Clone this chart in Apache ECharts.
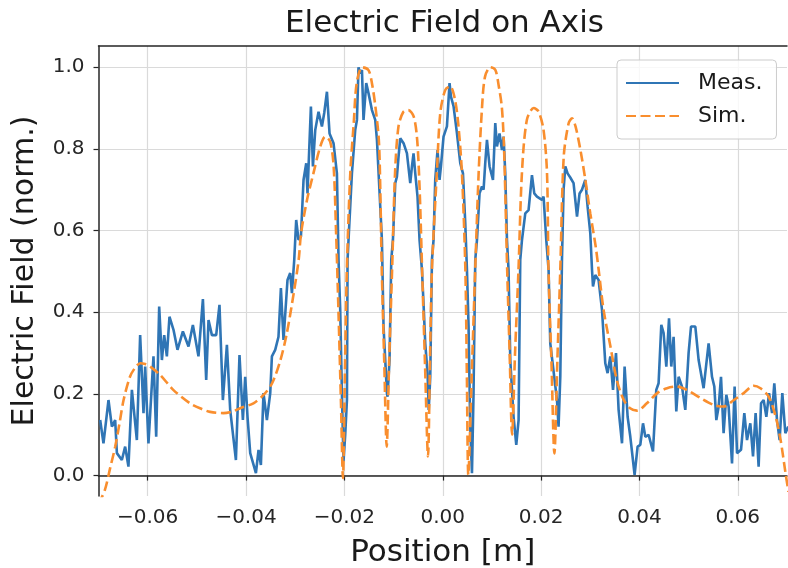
<!DOCTYPE html>
<html>
<head>
<meta charset="utf-8">
<script src="https://cdn.jsdelivr.net/npm/echarts@6/dist/echarts.min.js"></script>
<style>html,body{margin:0;padding:0;background:#fff}#c{width:788px;height:568px}</style>
</head>
<body>
<div id="c"></div>
<script>
var xTicks = [-0.06, -0.04, -0.02, 0.0, 0.02, 0.04, 0.06];
var yTicks = [0.0, 0.2, 0.4, 0.6, 0.8, 1.0];

var measX = [-0.06966,-0.06899,-0.06797,-0.06728,-0.06661,-0.06626,-0.06525,-0.06458,-0.06391,-0.06321,-0.06220,-0.06153,-0.06085,-0.06051,-0.05984,-0.05882,-0.05827,-0.05766,-0.05711,-0.05664,-0.05610,-0.05557,-0.05475,-0.05394,-0.05284,-0.05170,-0.05081,-0.04967,-0.04877,-0.04810,-0.04763,-0.04694,-0.04607,-0.04540,-0.04471,-0.04389,-0.04322,-0.04206,-0.04133,-0.04064,-0.04017,-0.03970,-0.03915,-0.03799,-0.03746,-0.03698,-0.03645,-0.03576,-0.03508,-0.03474,-0.03407,-0.03340,-0.03291,-0.03238,-0.03157,-0.03102,-0.03067,-0.03020,-0.02980,-0.02933,-0.02884,-0.02831,-0.02776,-0.02750,-0.02681,-0.02640,-0.02593,-0.02526,-0.02457,-0.02410,-0.02355,-0.02302,-0.02221,-0.02152,-0.02119,-0.02085,-0.02050,-0.02018,-0.01983,-0.01948,-0.01936,-0.01916,-0.01847,-0.01780,-0.01745,-0.01713,-0.01678,-0.01643,-0.01611,-0.01556,-0.01509,-0.01440,-0.01373,-0.01338,-0.01271,-0.01237,-0.01204,-0.01135,-0.01123,-0.01082,-0.01047,-0.01013,-0.00966,-0.00932,-0.00899,-0.00864,-0.00797,-0.00728,-0.00661,-0.00626,-0.00594,-0.00559,-0.00513,-0.00472,-0.00423,-0.00391,-0.00356,-0.00309,-0.00285,-0.00254,-0.00220,-0.00187,-0.00153,-0.00106,-0.00065,-0.00037,0.00016,0.00085,0.00138,0.00167,0.00220,0.00289,0.00356,0.00411,0.00458,0.00492,0.00525,0.00559,0.00594,0.00626,0.00661,0.00696,0.00748,0.00797,0.00830,0.00864,0.00899,0.00952,0.01021,0.01068,0.01102,0.01155,0.01204,0.01237,0.01271,0.01306,0.01338,0.01373,0.01440,0.01495,0.01542,0.01576,0.01611,0.01678,0.01745,0.01814,0.01861,0.01916,0.02018,0.02050,0.02105,0.02152,0.02186,0.02323,0.02355,0.02390,0.02424,0.02457,0.02492,0.02538,0.02593,0.02660,0.02730,0.02782,0.02831,0.02898,0.02945,0.03000,0.03035,0.03055,0.03102,0.03169,0.03238,0.03271,0.03305,0.03352,0.03407,0.03462,0.03523,0.03576,0.03645,0.03698,0.03759,0.03814,0.03901,0.03962,0.04017,0.04072,0.04119,0.04186,0.04275,0.04342,0.04389,0.04444,0.04491,0.04546,0.04601,0.04647,0.04694,0.04749,0.04796,0.04865,0.04932,0.04999,0.05048,0.05136,0.05203,0.05304,0.05406,0.05475,0.05522,0.05563,0.05610,0.05658,0.05711,0.05766,0.05813,0.05882,0.05935,0.05984,0.06065,0.06132,0.06187,0.06254,0.06309,0.06362,0.06423,0.06472,0.06525,0.06580,0.06635,0.06696,0.06742,0.06797,0.06850,0.06905,0.06966,0.07027];
var measY = [0.136,0.079,0.185,0.120,0.136,0.055,0.038,0.071,0.022,0.210,0.087,0.344,0.153,0.267,0.079,0.292,0.095,0.414,0.283,0.344,0.292,0.389,0.357,0.308,0.353,0.316,0.369,0.292,0.432,0.234,0.381,0.344,0.344,0.418,0.185,0.320,0.161,0.038,0.295,0.136,0.242,0.144,0.055,0.006,0.063,0.026,0.202,0.136,0.202,0.292,0.308,0.340,0.459,0.332,0.479,0.496,0.447,0.528,0.626,0.577,0.585,0.724,0.765,0.691,0.904,0.757,0.846,0.891,0.855,0.888,0.940,0.838,0.814,0.740,0.528,0.406,0.200,0.035,0.100,0.185,0.528,0.577,0.740,0.846,0.871,1.000,0.985,0.993,0.871,0.961,0.936,0.895,0.871,0.822,0.659,0.577,0.365,0.202,0.193,0.283,0.528,0.577,0.716,0.732,0.781,0.826,0.814,0.789,0.716,0.757,0.789,0.740,0.683,0.577,0.504,0.422,0.324,0.251,0.161,0.242,0.528,0.577,0.724,0.797,0.724,0.757,0.830,0.855,0.961,0.928,0.904,0.838,0.765,0.740,0.618,0.504,0.365,0.120,0.006,0.202,0.528,0.577,0.691,0.708,0.700,0.765,0.822,0.757,0.724,0.863,0.806,0.838,0.797,0.830,0.740,0.577,0.504,0.283,0.144,0.075,0.136,0.528,0.577,0.642,0.650,0.736,0.691,0.683,0.675,0.683,0.577,0.504,0.324,0.185,0.120,0.242,0.528,0.700,0.757,0.740,0.730,0.716,0.634,0.691,0.700,0.724,0.659,0.594,0.504,0.463,0.491,0.479,0.406,0.406,0.275,0.251,0.292,0.210,0.300,0.161,0.079,0.267,0.144,0.095,0.002,0.071,0.075,0.128,0.095,0.100,0.059,0.210,0.226,0.369,0.349,0.267,0.385,0.267,0.340,0.157,0.242,0.218,0.161,0.300,0.365,0.365,0.283,0.214,0.324,0.242,0.218,0.136,0.169,0.242,0.104,0.198,0.169,0.030,0.218,0.055,0.063,0.153,0.087,0.128,0.047,0.153,0.022,0.177,0.185,0.144,0.202,0.153,0.226,0.136,0.087,0.202,0.104,0.120];

var simX = [-0.0700,-0.0687,-0.0676,-0.0666,-0.0657,-0.0649,-0.0636,-0.0625,-0.0615,-0.0605,-0.0595,-0.0575,-0.0548,-0.0514,-0.0490,-0.0473,-0.0446,-0.0425,-0.0412,-0.0385,-0.0364,-0.0347,-0.0330,-0.0317,-0.0303,-0.0293,-0.0288,-0.0276,-0.0263,-0.0249,-0.0239,-0.0229,-0.0222,-0.0217,-0.0212,-0.0207,-0.0203,-0.0199,-0.0195,-0.0188,-0.0181,-0.0175,-0.0164,-0.0151,-0.0144,-0.0137,-0.0130,-0.0127,-0.0124,-0.0119,-0.0114,-0.0109,-0.0103,-0.0097,-0.0090,-0.0080,-0.0070,-0.0059,-0.0052,-0.0047,-0.0042,-0.0036,-0.0030,-0.0026,-0.0022,-0.0012,-0.0005,0.0005,0.0015,0.0025,0.0032,0.0039,0.0046,0.0049,0.0052,0.0059,0.0066,0.0073,0.0080,0.0086,0.0097,0.0107,0.0114,0.0120,0.0124,0.0127,0.0131,0.0136,0.0141,0.0147,0.0154,0.0161,0.0171,0.0185,0.0195,0.0205,0.0212,0.0215,0.0221,0.0227,0.0233,0.0239,0.0246,0.0256,0.0263,0.0270,0.0280,0.0290,0.0300,0.0311,0.0317,0.0327,0.0341,0.0354,0.0368,0.0381,0.0395,0.0415,0.0436,0.0456,0.0476,0.0496,0.0524,0.0551,0.0571,0.0592,0.0612,0.0632,0.0646,0.0663,0.0677,0.0687,0.0697,0.0703];
var simY = [-0.070,-0.035,0.020,0.071,0.130,0.185,0.242,0.265,0.275,0.273,0.267,0.247,0.210,0.177,0.163,0.156,0.153,0.158,0.165,0.177,0.198,0.226,0.283,0.349,0.447,0.528,0.594,0.675,0.740,0.806,0.830,0.818,0.760,0.600,0.400,0.180,-0.006,0.250,0.504,0.741,0.863,0.961,1.000,0.993,0.961,0.904,0.822,0.700,0.504,0.280,0.071,0.280,0.504,0.741,0.855,0.891,0.895,0.879,0.822,0.700,0.504,0.270,0.047,0.280,0.504,0.741,0.888,0.944,0.953,0.920,0.855,0.741,0.504,0.250,0.002,0.250,0.504,0.741,0.904,0.977,1.000,0.993,0.953,0.904,0.822,0.700,0.504,0.300,0.100,0.300,0.504,0.741,0.871,0.900,0.891,0.846,0.741,0.504,0.280,0.054,0.280,0.504,0.781,0.863,0.875,0.855,0.797,0.724,0.642,0.561,0.504,0.406,0.316,0.234,0.185,0.165,0.159,0.177,0.202,0.214,0.218,0.210,0.190,0.173,0.169,0.185,0.202,0.220,0.214,0.193,0.144,0.087,0.006,-0.040];

function pairs(xs, ys) { return xs.map(function (x, i) { return [x, ys[i]]; }); }

var FONT = 'DejaVu Sans';
var chart = echarts.init(document.getElementById('c'), null, { renderer: 'canvas' });
chart.setOption({
  animation: false,
  backgroundColor: '#ffffff',
  title: {
    text: 'Electric Field on Axis',
    left: 285, top: 8, padding: 0,
    textStyle: { fontFamily: FONT, fontSize: 31, fontWeight: 'normal', color: '#1a1a1a' }
  },
  legend: {
    orient: 'vertical', left: 617, top: 60,
    padding: [12, 14, 12, 8],
    itemWidth: 53, itemHeight: 14, itemGap: 11,
    backgroundColor: 'rgba(255,255,255,0.8)',
    borderColor: '#cccccc', borderWidth: 1, borderRadius: 4,
    itemStyle: { opacity: 0 },
    textStyle: { fontFamily: FONT, fontSize: 22, color: '#1a1a1a', padding: [0, 0, 0, 14] },
    data: ['Meas.', 'Sim.']
  },
  grid: { left: 98.5, right: 1, top: 46, bottom: 72, outerBoundsMode: 'none', containLabel: false },
  xAxis: [{
    type: 'value', min: -0.07, max: 0.07,
    name: 'Position [m]', nameLocation: 'middle', nameGap: 41,
    nameTextStyle: { fontFamily: FONT, fontSize: 31, color: '#1a1a1a' },
    axisLine: { show: true, lineStyle: { color: '#262626', width: 1.5 } },
    axisTick: { show: true, length: 5, customValues: xTicks, lineStyle: { color: '#262626', width: 1.2 } },
    axisLabel: {
      customValues: xTicks, margin: 12,
      fontFamily: FONT, fontSize: 20, color: '#262626',
      formatter: function (v) { return v < -1e-9 ? '\u2212' + (-v).toFixed(2) : Math.abs(v).toFixed(2); }
    },
    splitLine: { show: true, lineStyle: { color: '#dadada', width: 1.2 } }
  }, {
    type: 'value', min: -0.07, max: 0.07, position: 'top', gridIndex: 0,
    axisLine: { show: true, onZero: false, lineStyle: { color: '#262626', width: 1.5 } },
    axisTick: { show: false }, axisLabel: { show: false }, splitLine: { show: false }
  }],
  yAxis: {
    type: 'value', min: -0.05, max: 1.052,
    name: 'Electric Field (norm.)', nameLocation: 'middle', nameGap: 58,
    nameTextStyle: { fontFamily: FONT, fontSize: 30, color: '#1a1a1a' },
    axisLine: { show: true, onZero: false, lineStyle: { color: '#262626', width: 1.5 } },
    axisTick: { show: true, length: 5, customValues: yTicks, lineStyle: { color: '#262626', width: 1.2 } },
    axisLabel: {
      customValues: yTicks, margin: 14,
      fontFamily: FONT, fontSize: 20, color: '#262626',
      formatter: function (v) { return v.toFixed(1); }
    },
    splitLine: { show: true, lineStyle: { color: '#dadada', width: 1.2 } }
  },
  series: [{
    name: 'Meas.', type: 'line', data: pairs(measX, measY),
    symbol: 'none', showSymbol: false, clip: true,
    lineStyle: { color: '#2f75b5', width: 2.6 },
    itemStyle: { color: '#2f75b5' }
  }, {
    name: 'Sim.', type: 'line', data: pairs(simX, simY),
    symbol: 'none', showSymbol: false, clip: true, smooth: 0.3,
    lineStyle: { color: '#f98e2e', width: 2.6, type: [10, 4.5] },
    itemStyle: { color: '#f98e2e' }
  }]
});
</script>
</body>
</html>
